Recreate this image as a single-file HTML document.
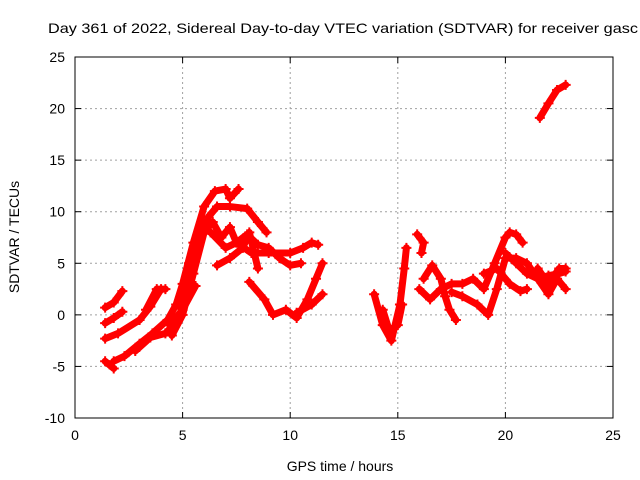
<!DOCTYPE html>
<html><head><meta charset="utf-8"><style>
body{margin:0;background:#fff;}
svg{display:block;font-family:"Liberation Sans",sans-serif;}
</style></head><body>
<svg id="chart" width="640" height="480">
<text x="48" y="33" font-size="14" fill="#000" textLength="590" lengthAdjust="spacingAndGlyphs">Day 361 of 2022, Sidereal Day-to-day VTEC variation (SDTVAR) for receiver gasc</text>
<g id="grid"></g><g id="series"></g><g id="axes"></g>
<text x="340" y="471" font-size="14" text-anchor="middle">GPS time / hours</text>
<text transform="translate(19,237) rotate(-90)" font-size="14" text-anchor="middle">SDTVAR / TECUs</text>
</svg>
<script>
const xTicks=[0,5,10,15,20,25];
const yTicks=[-10,-5,0,5,10,15,20,25];
const track1=[[1.4,0.7],[1.8,1.2],[2.2,2.3]];
const track2=[[1.4,-0.8],[1.8,-0.3],[2.2,0.3]];
const track3=[[1.4,-2.3],[2.0,-1.8],[3.0,-0.5],[3.5,0.8],[4.0,2.5]];
const track4=[[1.4,-4.5],[1.8,-5.2]];
const track5=[[1.8,-4.5],[2.3,-4.0],[3.0,-2.8],[3.6,-1.8],[4.3,-0.5],[4.7,1],[5.0,3],[5.5,7],[6.0,10.5],[6.5,12],[7.0,12.2],[7.2,11.3],[7.6,12.2]];
const track6=[[2.8,-3.5],[3.5,-2.2],[4.2,-1.8],[4.8,-0.5],[5.3,3],[5.8,7.5],[6.2,9.5],[6.6,10.5],[7.2,10.5],[8.0,10.3],[8.5,9.0],[8.9,8.0]];
const track7=[[3.3,0.5],[3.8,2.5],[4.2,2.5]];
const track8=[[4.4,-1.0],[5.0,0.5],[5.6,2.8]];
const track9=[[4.5,-2.0],[5.0,0],[5.5,4],[6.0,8],[6.4,9],[6.8,7.5],[7.2,8.5],[7.5,7.0],[8.0,7.8],[8.5,6.8],[9.0,6.5],[9.5,5.5],[10.0,4.8],[10.5,5.0]];
const track10=[[4.8,1],[5.3,5],[5.8,8.5],[6.3,8.0],[7.0,6.5],[7.5,7.0],[8.2,6.0],[9.0,6.0],[10.0,6.0],[10.6,6.5],[11.0,7.0],[11.3,6.8]];
const track11=[[6.6,4.8],[7.2,5.5],[7.8,6.5],[8.1,8.0],[8.5,4.5]];
const track12=[[8.1,3.2],[8.8,1.5],[9.2,0],[9.8,0.5],[10.3,-0.3],[10.8,1.5],[11.2,3.5],[11.5,5.0]];
const track13=[[10.3,0.2],[11,1],[11.5,2.0]];
const track14=[[13.9,2],[14.3,-1],[14.7,-2.5],[15.1,1],[15.3,4.5],[15.4,6.5]];
const track15=[[14.3,0.5],[14.6,-1.5],[15.0,-1.0],[15.2,1.0]];
const track16=[[15.9,7.8],[16.2,7],[16.1,6]];
const track17=[[16.2,3.5],[16.6,4.8],[17.0,3.5],[17.2,1.8],[17.4,0.5],[17.7,-0.5]];
const track18=[[16.0,2.5],[16.5,1.5],[17.0,2.5],[17.5,3],[18.0,3.0],[18.5,3.5],[19.0,2.5],[19.5,5],[20.0,7.5],[20.2,8.0],[20.5,7.8],[20.8,7.0]];
const track19=[[17.5,2.2],[18.0,1.8],[18.7,1.0],[19.2,0],[19.6,2.5],[20.0,5.5],[20.5,5.5],[21.0,5.0],[21.5,3.5],[22.0,3.8],[22.5,4.0],[22.8,4.2]];
const track20=[[19.0,4.0],[19.6,4.5],[20.2,3.0],[20.7,2.3],[21.0,2.5]];
const track21=[[20.0,6.0],[20.5,5.0],[21.0,4.0],[21.5,3.5],[22.0,2.0],[22.4,3.5],[22.8,2.5]];
const track22=[[21.6,19.1],[22.0,20.5],[22.4,21.8],[22.8,22.3]];
const track23=[[21.5,4.5],[22,3.0],[22.5,4.5],[22.8,4.5]];
const tracks=[track1,track2,track3,track4,track5,track6,track7,track8,track9,track10,track11,track12,track13,track14,track15,track16,track17,track18,track19,track20,track21,track22,track23];
const X0=75,X1=613,Y0=418,Y1=57;
const sx=v=>X0+(v-0)/25*(X1-X0);
const sy=v=>Y0-(v+10)/35*(Y0-Y1);
const NS="http://www.w3.org/2000/svg";
function mk(t,a,p){const e=document.createElementNS(NS,t);for(const k in a)e.setAttribute(k,a[k]);p.appendChild(e);return e;}
const grid=document.getElementById('grid'),axes=document.getElementById('axes'),ser=document.getElementById('series');
xTicks.forEach(t=>{
 if(t>0&&t<25){const g=mk('line',{x1:sx(t),x2:sx(t),y1:Y1,y2:Y0,stroke:'#a0a0a0','stroke-dasharray':'2,3'},grid);
 
 }
 const l=mk('text',{x:sx(t),y:Y0+22,'font-size':14,'text-anchor':'middle'},axes);l.textContent=t;
 
 
 mk('line',{x1:sx(t),x2:sx(t),y1:Y0,y2:Y0-6,stroke:'#000'},axes);
 mk('line',{x1:sx(t),x2:sx(t),y1:Y1,y2:Y1+6,stroke:'#000'},axes);
});
yTicks.forEach(t=>{
 if(t>-10&&t<25){const g=mk('line',{x1:X0,x2:X1,y1:sy(t),y2:sy(t),stroke:'#a0a0a0','stroke-dasharray':'2,3'},grid);
 
 }
 const l=mk('text',{x:X0-10,y:sy(t)+5,'font-size':14,'text-anchor':'end'},axes);l.textContent=t;
 
 
 mk('line',{x1:X0,x2:X0+6,y1:sy(t),y2:sy(t),stroke:'#000'},axes);
 mk('line',{x1:X1,x2:X1-6,y1:sy(t),y2:sy(t),stroke:'#000'},axes);
});
const frame=mk('rect',{x:X0,y:Y1,width:X1-X0,height:Y0-Y1,fill:'none',stroke:'#000'},axes);


tracks.forEach((tr,i)=>{
 const p=mk('polyline',{points:tr.map(d=>sx(d[0])+','+sy(d[1])).join(' '),fill:'none',stroke:'#ff0000','stroke-width':7,'stroke-linejoin':'round','stroke-linecap':'round'},ser);
 
 
 tr.forEach(d=>{
  const x=sx(d[0]),y=sy(d[1]);
  mk('path',{d:`M${x-5},${y}H${x+5}M${x},${y-5}V${y+5}`,stroke:'#ff0000','stroke-width':2},ser);
 });
});
</script>
</body></html>
